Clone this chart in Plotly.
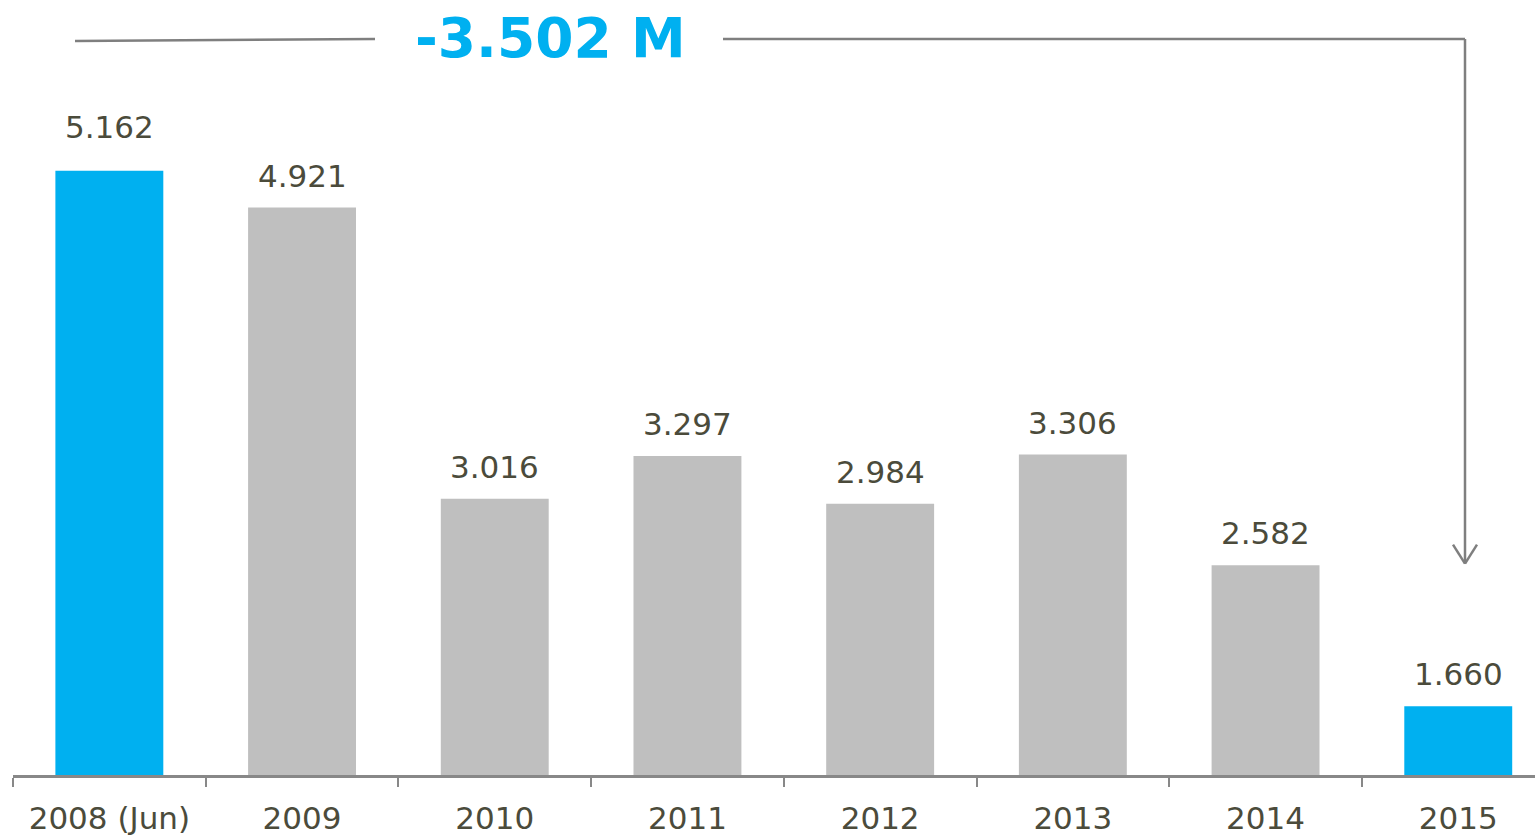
import plotly.graph_objects as go

categories = ["2008 (Jun)", "2009", "2010", "2011", "2012", "2013", "2014", "2015"]
values = [5.162, 4.921, 3.016, 3.297, 2.984, 3.306, 2.582, 1.660]
value_labels = ["5.162", "4.921", "3.016", "3.297", "2.984", "3.306", "2.582", "1.660"]
highlight = [True, False, False, False, False, False, False, True]
change_label = "-3.502 M"

BLUE = "#00B0F0"
GREY = "#BFBFBF"
TEXT = "#4B4B3B"
LINE = "#7F7F7F"

W, H = 1535, 836
ML, MR, MT, MB = 13, 0, 0, 836 - 777
PW, PH = W - ML - MR, H - MT - MB


def px(x):
    return (x - ML) / PW


def py(y):
    return (777 - y) / PH


fig = go.Figure()
fig.add_trace(go.Bar(
    x=categories,
    y=values,
    marker=dict(color=[BLUE if h else GREY for h in highlight], line=dict(width=0)),
    hoverinfo="skip",
))

for i, (v, t) in enumerate(zip(values, value_labels)):
    fig.add_annotation(x=i, y=v, text=t, showarrow=False, yanchor="bottom",
                       yshift=24 if i == 0 else 12,
                       font=dict(family="DejaVu Sans", size=31, color=TEXT))

fig.add_annotation(x=px(550), y=py(38), xref="paper", yref="paper", text="<b>" + change_label + "</b>",
                   showarrow=False, xanchor="center", yanchor="middle",
                   font=dict(family="DejaVu Sans", size=55, color=BLUE))

lw = 2.5
shapes = [
    dict(type="line", x0=px(75), y0=py(41), x1=px(375), y1=py(39)),
    dict(type="line", x0=px(723), y0=py(39), x1=px(1465), y1=py(39)),
    dict(type="line", x0=px(1465), y0=py(39), x1=px(1465), y1=py(565)),
    dict(type="line", x0=px(1453), y0=py(546), x1=px(1465), y1=py(565)),
    dict(type="line", x0=px(1477), y0=py(546), x1=px(1465), y1=py(565)),
]
for s in shapes:
    s.update(xref="paper", yref="paper", line=dict(color=LINE, width=lw))
    fig.add_shape(**s)

fig.update_layout(
    width=W, height=H,
    margin=dict(l=ML, r=MR, t=MT, b=MB),
    paper_bgcolor="white", plot_bgcolor="white",
    bargap=0.44, showlegend=False,
    xaxis=dict(
        type="category", range=[-0.5, -0.5 + PW / 192.7],
        showline=True, linecolor="#888888", linewidth=3,
        ticks="outside", tickson="boundaries", ticklen=9, tickwidth=2, tickcolor="#888888",
        ticklabelstandoff=14,
        tickfont=dict(family="DejaVu Sans", size=31, color=TEXT),
        showgrid=False, zeroline=False, fixedrange=True,
    ),
    yaxis=dict(range=[1.21, 1.21 + PH / 153.3], visible=False, showgrid=False, zeroline=False,
               fixedrange=True),
)

fig.write_html("out.html", config={"displayModeBar": False, "staticPlot": True},
               post_script="document.body.style.margin='0';document.body.style.overflow='hidden';")
